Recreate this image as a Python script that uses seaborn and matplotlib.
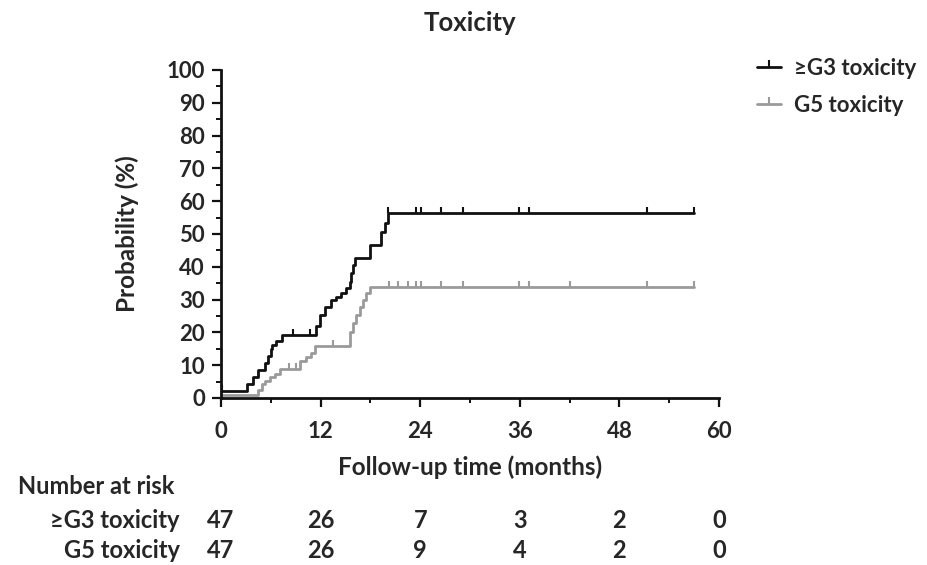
import numpy as np
import pandas as pd
import matplotlib
matplotlib.use("Agg")
import matplotlib.pyplot as plt
from matplotlib.lines import Line2D
from matplotlib.transforms import blended_transform_factory
import seaborn as sns

# ---------------- data ----------------
groups = ["≥G3 toxicity", "G5 toxicity"]

g3_times = [0, 3.1, 3.8, 4.5, 5.3, 5.7, 6.0, 6.2, 6.6, 7.4, 11.5, 11.9, 12.5, 13.3,
            13.9, 14.5, 15.1, 15.5, 15.7, 15.9, 16.1, 17.9, 19.3, 19.7, 20.1, 57.0]
g3_values = [2.1, 4.3, 6.4, 8.5, 10.6, 12.8, 14.9, 16.1, 17.5, 19.1, 22.0, 25.3, 27.8, 29.9,
             30.9, 31.9, 33.5, 35.5, 38.0, 40.5, 42.6, 46.6, 50.7, 53.3, 56.4, 56.4]
g3_censor = [0.1, 8.7, 10.7, 20.1, 23.5, 24.1, 26.5, 29.1, 35.9, 37.1, 51.3, 57.0]

g5_times = [0, 4.5, 4.9, 5.3, 5.9, 6.5, 7.1, 9.5, 10.3, 10.9, 11.3, 15.5, 15.9, 16.3,
            16.7, 17.1, 17.5, 17.9, 57.0]
g5_values = [0.8, 2.4, 4.3, 5.3, 6.4, 7.4, 8.9, 11.4, 12.4, 13.8, 16.0, 20.2, 22.8, 25.3,
             27.8, 29.9, 31.9, 33.9, 33.9]
g5_censor = [8.2, 9.0, 13.5, 20.3, 21.3, 22.5, 23.5, 24.1, 26.5, 29.1, 35.9, 37.1, 42.1, 51.3, 57.0]

risk_times = [0, 12, 24, 36, 48, 60]
risk_g3 = [47, 26, 7, 3, 2, 0]
risk_g5 = [47, 26, 9, 4, 2, 0]

colors = {"≥G3 toxicity": "#111111", "G5 toxicity": "#9a9a9a"}

# ---------------- build frames ----------------
curve_df = pd.concat([
    pd.DataFrame({"t": g3_times, "p": g3_values, "group": groups[0]}),
    pd.DataFrame({"t": g5_times, "p": g5_values, "group": groups[1]}),
], ignore_index=True)


def step_value(times, values, t):
    idx = np.searchsorted(np.asarray(times), t, side="right") - 1
    return np.asarray(values)[max(idx, 0)]


cens_df = pd.concat([
    pd.DataFrame({"t": g3_censor,
                  "p": [step_value(g3_times, g3_values, c) for c in g3_censor],
                  "group": groups[0]}),
    pd.DataFrame({"t": g5_censor,
                  "p": [step_value(g5_times, g5_values, c) for c in g5_censor],
                  "group": groups[1]}),
], ignore_index=True)

# ---------------- plot ----------------
sns.set_style("ticks")
FONT = ["Lato", "DejaVu Sans"]
plt.rcParams["font.family"] = FONT
plt.rcParams["font.weight"] = "bold"

fig = plt.figure(figsize=(9.28, 5.65), dpi=100)
ax = fig.add_axes([221 / 928, 1 - 398 / 565, (719 - 221) / 928, (398 - 70) / 565])

# draw gray first so black sits on top
for g in [groups[1], groups[0]]:
    sub = curve_df[curve_df.group == g]
    sns.lineplot(data=sub, x="t", y="p", color=colors[g], drawstyle="steps-post",
                 estimator=None, sort=False, linewidth=2.0, ax=ax, legend=False)
    csub = cens_df[cens_df.group == g]
    sns.scatterplot(data=csub, x="t", y="p", color=colors[g], marker=2, s=18,
                    linewidth=1.5, ax=ax, legend=False, zorder=3)

ax.set_xlim(0, 60)
ax.set_ylim(0, 100)
ax.set_xticks(risk_times)
ax.set_xticks(np.arange(0, 61, 6), minor=True)
ax.set_yticks(np.arange(0, 101, 10))
ax.set_yticks(np.arange(0, 101, 5), minor=True)

tick_font = dict(family=FONT, weight="bold", size=16)
ax.set_xticklabels([str(t) for t in risk_times], **tick_font)
ax.set_yticklabels([str(v) for v in range(0, 101, 10)], **tick_font)
ax.tick_params(axis="both", which="major", length=6.5, width=1.6, color="#111111")
ax.tick_params(axis="both", which="minor", length=3.5, width=1.4, color="#111111")
ax.tick_params(axis="x", which="major", pad=10)
ax.tick_params(axis="y", which="major", pad=5)

for s in ["left", "bottom"]:
    ax.spines[s].set_linewidth(2.0)
    ax.spines[s].set_color("#111111")
sns.despine(ax=ax)

ax.set_xlabel("Follow-up time (months)", fontsize=17.5, fontweight="bold", labelpad=10)
ax.set_ylabel("Probability (%)", fontsize=17.5, fontweight="bold", labelpad=20)
ax.set_title("Toxicity", fontsize=18.5, fontweight="bold", pad=28)

# legend
handles = [Line2D([0], [0], color=colors[g], lw=2.0, marker=2, markersize=5,
                  markeredgewidth=1.5) for g in groups]
fig.legend(handles, groups, loc="upper left", bbox_to_anchor=(737 / 928, 1 - 38 / 565),
           frameon=False, prop=dict(family=FONT, weight="bold", size=16),
           handlelength=1.1, handletextpad=0.55, labelspacing=0.7)

# number at risk table
tr = blended_transform_factory(ax.transData, fig.transFigure)
fig.text(18 / 928, 1 - 487 / 565, "Number at risk", fontsize=17, fontweight="bold",
         va="center", ha="left")
row_y = [1 - 520 / 565, 1 - 550 / 565]
for y, lab, vals in zip(row_y, groups, [risk_g3, risk_g5]):
    fig.text(180 / 928, y, lab, fontsize=17, fontweight="bold", va="center", ha="right")
    for t, v in zip(risk_times, vals):
        ax.text(t, y, str(v), transform=tr, fontsize=17, fontweight="bold",
                va="center", ha="center", clip_on=False)

fig.savefig("out.png", dpi=100)
